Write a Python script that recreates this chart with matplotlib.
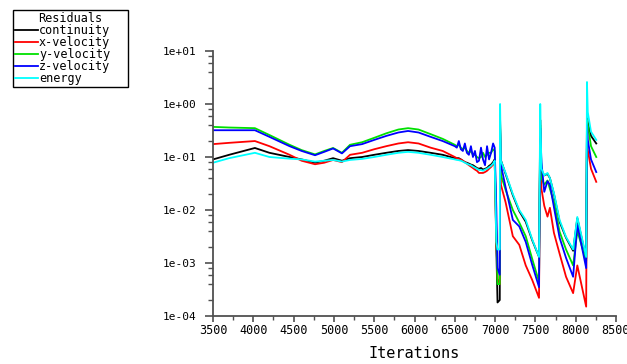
import matplotlib
matplotlib.use("Agg")
import matplotlib.pyplot as plt
from matplotlib.ticker import FixedLocator, LogLocator, MultipleLocator, NullFormatter

# residual history (iteration, value) for each equation
iters = [3500, 3700, 4020, 4200, 4450, 4600, 4766, 4880, 4990, 5100, 5200, 5350,
         5500, 5650, 5800, 5920, 6050, 6200, 6350, 6500,
         6525, 6550, 6575, 6600, 6625, 6650, 6675, 6700, 6725, 6750, 6775, 6800,
         6825, 6850, 6875, 6900, 6925, 6950, 6975, 6995,
         7015, 7030, 7058, 7062, 7072, 7130, 7220, 7300, 7380, 7460, 7545,
         7560, 7575, 7610, 7650, 7680, 7730, 7800, 7880, 7968, 8020, 8130,
         8140, 8150, 8190, 8255]

continuity = [.09, .11, .148, .12, .1, .09, .078, .085, .095, .085, .095, .1,
              .11, .12, .13, .135, .13, .12, .11, .095,
              .095, .095, .09, .085, .08, .078, .075, .072, .07, .066, .062, .06,
              .062, .058, .06, .062, .068, .072, .08, .09,
              .002, .00018, .0002, .5, .087, .048, .019, .0095, .006, .0027, .0013,
              .5, .055, .045, .048, .04, .02, .006, .003, .0017, .007, .0012,
              .6, .45, .25, .18]

x_velocity = [.175, .185, .2, .16, .11, .085, .073, .078, .088, .08, .11, .12,
              .14, .16, .18, .19, .18, .15, .13, .1,
              .095, .092, .09, .085, .08, .075, .07, .066, .062, .058, .055, .05,
              .05, .05, .052, .055, .06, .065, .072, .08,
              .003, .0005, .0004, .3, .03, .014, .0032, .0022, .0009, .00048, .00022,
              .3, .025, .012, .0075, .011, .0037, .0015, .00055, .00027, .0009, .00015,
              .3, .135, .06, .034]

y_velocity = [.37, .36, .35, .26, .17, .135, .112, .13, .148, .12, .17, .19,
              .23, .28, .33, .35, .33, .27, .22, .17,
              .16, .17, .15, .14, .15, .13, .12, .13, .11, .11, .1, .095,
              .1, .12, .1, .11, .12, .12, .14, .13,
              .004, .0004, .0004, .4, .046, .024, .01, .0058, .0032, .0012, .00044,
              .4, .04, .03, .036, .025, .014, .0039, .0018, .0009, .004, .0011,
              .5, .4, .16, .1]

z_velocity = [.32, .32, .32, .24, .16, .13, .108, .125, .145, .117, .16, .175,
              .21, .25, .29, .31, .29, .24, .2, .16,
              .15, .2, .14, .13, .18, .12, .11, .16, .1, .13, .08, .085,
              .15, .09, .07, .16, .09, .12, .18, .15,
              .011, .0008, .0006, .35, .071, .027, .0065, .0049, .0025, .00093, .00035,
              .35, .08, .022, .035, .03, .0113, .003, .00125, .00055, .0053, .0008,
              .4, .21, .09, .052]

energy = [.078, .095, .12, .1, .093, .09, .082, .085, .088, .082, .088, .092,
          .1, .11, .12, .125, .12, .11, .1, .09,
          .088, .087, .085, .082, .078, .075, .072, .07, .066, .063, .06, .057,
          .057, .055, .058, .06, .064, .068, .075, .085,
          .0025, .0018, .0018, 1.0, .085, .05, .02, .01, .0065, .0028, .0013,
          1.0, .06, .045, .05, .04, .021, .0065, .0031, .0018, .0074, .0013,
          2.6, .7, .3, .21]

series = [("continuity", continuity, "black"),
          ("x-velocity", x_velocity, "#ff0000"),
          ("y-velocity", y_velocity, "#00e000"),
          ("z-velocity", z_velocity, "#0000ff"),
          ("energy", energy, "#00ffff")]

decades = [1e-4, 1e-3, 1e-2, 1e-1, 1e0, 1e1]
decade_labels = ["1e-04", "1e-03", "1e-02", "1e-01", "1e+00", "1e+01"]

mono = "DejaVu Sans Mono"
axis_col = "#505050"

fig = plt.figure(figsize=(6.27, 3.64), dpi=100)
ax = fig.add_axes([213 / 627, 1 - 316 / 364, 403 / 627, 265 / 364])

lines = []
for name, vals, col in series:
    ln, = ax.plot(iters, vals, color=col, lw=1.3, label=name)
    lines.append(ln)

ax.set_yscale("log")
ax.set_ylim(1e-4, 1e1)
ax.set_xlim(3500, 8500)

ax.yaxis.set_major_locator(FixedLocator(decades))
ax.set_yticklabels(decade_labels, fontfamily=mono, fontsize=8)
ax.yaxis.set_minor_locator(LogLocator(base=10, subs=[2, 4, 6, 8]))
ax.yaxis.set_minor_formatter(NullFormatter())

ax.xaxis.set_major_locator(MultipleLocator(500))
ax.xaxis.set_minor_locator(MultipleLocator(250))
for lab in ax.get_xticklabels():
    lab.set_fontfamily(mono)
    lab.set_fontsize(8.5)

ax.tick_params(axis="y", which="major", length=6, width=1.2, color=axis_col, pad=6)
ax.tick_params(axis="y", which="minor", length=3.5, width=1.0, color=axis_col)
ax.tick_params(axis="x", which="major", length=4, width=1.2, color=axis_col, pad=2)
ax.tick_params(axis="x", which="minor", length=3, width=1.0, color=axis_col)

for side in ("top", "right"):
    ax.spines[side].set_visible(False)
for side in ("left", "bottom"):
    ax.spines[side].set_color(axis_col)
    ax.spines[side].set_linewidth(1.3)

ax.set_xlabel("Iterations", fontfamily=mono, fontsize=11, labelpad=6)

# legend box stretched to a fixed width, entries packed tightly
leg = fig.legend(handles=lines, loc="upper left", mode="expand",
                 bbox_to_anchor=(13 / 627, 1 - 85 / 364, 115 / 627, 75 / 364),
                 title="Residuals", prop={"family": mono, "size": 8.5},
                 title_fontproperties={"family": mono, "size": 8.5},
                 fancybox=False, edgecolor="black", framealpha=1,
                 borderpad=0.2, labelspacing=-0.09, handlelength=1.9,
                 handletextpad=0.1, borderaxespad=0)
leg.get_frame().set_linewidth(1.0)

fig.savefig("out.png", dpi=100)
